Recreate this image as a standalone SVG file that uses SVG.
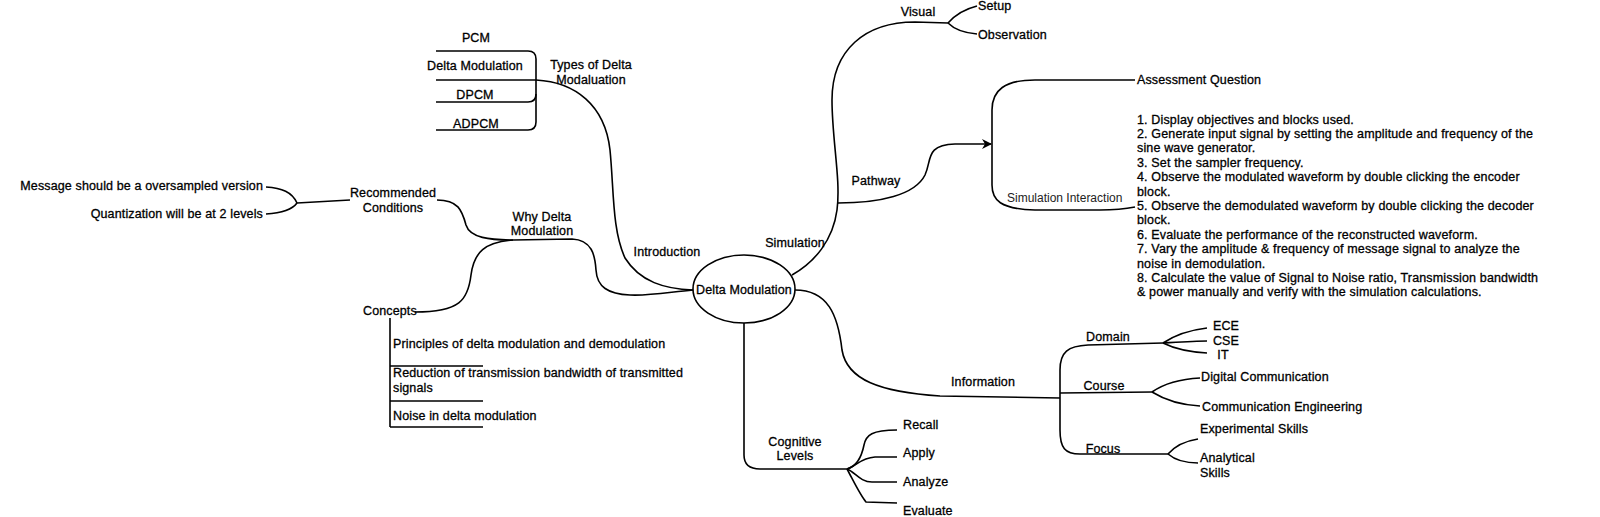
<svg xmlns="http://www.w3.org/2000/svg" width="1600" height="517" viewBox="0 0 1600 517">
<style>
text{font-family:"Liberation Sans",Arial,Helvetica,sans-serif;font-size:12.5px;letter-spacing:0.13px;fill:#000;stroke:#000;stroke-width:0.3}
.m{text-anchor:middle}
.e{text-anchor:end}
.s{font-size:12.5px;letter-spacing:0.15px}
.si{font-size:12px;letter-spacing:0;fill:#222;stroke:none}
.c{fill:none;stroke:#000;stroke-width:1.6}
</style>
<defs>
<marker id="arr" markerWidth="10" markerHeight="10" refX="9" refY="5" orient="auto" markerUnits="userSpaceOnUse">
<path d="M0,0 L10,5 L0,10 L3,5 Z" fill="#000"/>
</marker>
</defs>
<rect width="1600" height="517" fill="#fff"/>
<g id="connectors">
<path class="c" d="M536,80 C575,82 605,105 610,150 C614,190 612,230 625,258 C640,282 665,289 693,290"/>
<path class="c" d="M436,51 L528,51 C533,51 536,54 536,59 L536,122 C536,127 533,130 528,130 L436,130"/>
<path class="c" d="M436,80 L536,80"/>
<path class="c" d="M436,102 L528,102 C533,102 536,99 536,94"/>
<path class="c" d="M693,290 C670,292 650,296 630,295 C608,294 597,287 596,270 C595,255 592,240 572,239 L513,240"/>
<path class="c" d="M513,240 C490,240 470,238 466,225 C462,210 458,200 437,200"/>
<path class="c" d="M513,240 C485,242 474,252 471,275 C468,300 460,312 415,312"/>
<path class="c" d="M350,200 L297,203"/>
<path class="c" d="M297,203 C292,192 282,188 266,187"/>
<path class="c" d="M297,203 C292,210 282,213 266,214"/>
<path class="c" d="M390,318 L390,427"/>
<path class="c" d="M390,366 L483,366 M390,401 L483,401 M390,427 L483,427"/>
<path class="c" d="M792,275 C815,262 833,240 837,210 C841,180 832,140 832,100 C832,50 865,22 915,22 L948,23"/>
<path class="c" d="M948,23 C955,15 965,9 977,6"/>
<path class="c" d="M948,23 C955,30 965,33 977,34"/>
<path class="c" d="M838,203 C880,203 915,195 925,175 C932,160 925,145 955,144 L991,144" marker-end="url(#arr)"/>
<path class="c" d="M1135,80 L1035,80 C1005,80 992,90 992,110 L992,185 C992,200 1000,209 1035,210 L1100,210 C1120,210 1130,208 1135,207"/>
<path class="c" d="M744,323 L744,455 C744,465 750,469 760,469 L847,469"/>
<path class="c" d="M847,469 C858,466 862,455 864,445 C866,435 872,430 897,430"/>
<path class="c" d="M847,469 C857,466 860,458 875,457 L897,457"/>
<path class="c" d="M847,469 C855,472 860,482 872,482 L897,482"/>
<path class="c" d="M847,469 C853,480 860,495 866,502 L897,503"/>
<path class="c" d="M795,290 C828,290 838,315 842,350 C847,380 880,392 940,396 L1060,398"/>
<path class="c" d="M1060,398 L1060,370 C1060,352 1068,346 1088,345 L1163,343"/>
<path class="c" d="M1163,343 C1175,335 1190,330 1207,328"/>
<path class="c" d="M1163,343 C1180,342 1195,341 1207,341"/>
<path class="c" d="M1163,343 C1175,349 1190,352 1207,353"/>
<path class="c" d="M1060,393 L1152,392"/>
<path class="c" d="M1152,392 C1165,383 1180,379 1200,378"/>
<path class="c" d="M1152,392 C1165,400 1180,405 1200,406"/>
<path class="c" d="M1060,398 L1060,430 C1060,448 1065,454 1080,454 L1168,454"/>
<path class="c" d="M1168,454 C1175,446 1185,441 1198,439"/>
<path class="c" d="M1168,454 C1175,460 1185,463 1198,463"/>
</g>
<g id="center">
<ellipse cx="744" cy="289" rx="51" ry="34" fill="#fff" stroke="#000" stroke-width="1.6"/>
<text class="m" x="744" y="294">Delta Modulation</text>
</g>
<g id="types">
<text class="m" x="476" y="42">PCM</text>
<text class="m" x="475" y="70">Delta Modulation</text>
<text class="m" x="475" y="99">DPCM</text>
<text class="m" x="476" y="128">ADPCM</text>
<text class="m" x="591" y="69">Types of Delta</text>
<text class="m" x="591" y="84">Modaluation</text>
</g>
<g id="introduction"><text class="m" x="667" y="256">Introduction</text></g>
<g id="why">
<text class="m" x="542" y="221">Why Delta</text>
<text class="m" x="542" y="235">Modulation</text>
</g>
<g id="recommended">
<text class="m" x="393" y="197">Recommended</text>
<text class="m" x="393" y="212">Conditions</text>
<text class="e" x="263" y="190">Message should be a oversampled version</text>
<text class="e" x="263" y="218">Quantization will be at 2 levels</text>
</g>
<g id="concepts">
<text x="363" y="315">Concepts</text>
<text x="393" y="348">Principles of delta modulation and demodulation</text>
<text x="393" y="377">Reduction of transmission bandwidth of transmitted</text>
<text x="393" y="392">signals</text>
<text x="393" y="420">Noise in delta modulation</text>
</g>
<g id="simulation">
<text class="m" x="795" y="247">Simulation</text>
<text class="m" x="918" y="16">Visual</text>
<text x="978" y="10">Setup</text>
<text x="978" y="39">Observation</text>
<text class="m" x="876" y="185">Pathway</text>
</g>
<g id="simulation-interaction">
<text class="si" x="1007" y="202">Simulation Interaction</text>
<text x="1137" y="84">Assessment Question</text>
<text class="s" x="1137" y="123.5">1. Display objectives and blocks used.</text>
<text class="s" x="1137" y="137.9">2. Generate input signal by setting the amplitude and frequency of the</text>
<text class="s" x="1137" y="152.3">sine wave generator.</text>
<text class="s" x="1137" y="166.7">3. Set the sampler frequency.</text>
<text class="s" x="1137" y="181.1">4. Observe the modulated waveform by double clicking the encoder</text>
<text class="s" x="1137" y="195.5">block.</text>
<text class="s" x="1137" y="209.9">5. Observe the demodulated waveform by double clicking the decoder</text>
<text class="s" x="1137" y="224.3">block.</text>
<text class="s" x="1137" y="238.7">6. Evaluate the performance of the reconstructed waveform.</text>
<text class="s" x="1137" y="253.1">7. Vary the amplitude &amp; frequency of message signal to analyze the</text>
<text class="s" x="1137" y="267.5">noise in demodulation.</text>
<text class="s" x="1137" y="281.9">8. Calculate the value of Signal to Noise ratio, Transmission bandwidth</text>
<text class="s" x="1137" y="296.3">&amp; power manually and verify with the simulation calculations.</text>
</g>
<g id="cognitive">
<text class="m" x="795" y="446">Cognitive</text>
<text class="m" x="795" y="460">Levels</text>
<text x="903" y="429">Recall</text>
<text x="903" y="457">Apply</text>
<text x="903" y="486">Analyze</text>
<text x="903" y="515">Evaluate</text>
</g>
<g id="information">
<text class="m" x="983" y="386">Information</text>
<text class="m" x="1108" y="341">Domain</text>
<text class="m" x="1226" y="330">ECE</text>
<text class="m" x="1226" y="345">CSE</text>
<text class="m" x="1223" y="359">IT</text>
<text class="m" x="1104" y="390">Course</text>
<text x="1201" y="381">Digital Communication</text>
<text x="1202" y="411">Communication Engineering</text>
<text class="m" x="1103" y="453">Focus</text>
<text x="1200" y="433">Experimental Skills</text>
<text x="1200" y="462">Analytical</text>
<text x="1200" y="477">Skills</text>
</g>
</svg>
